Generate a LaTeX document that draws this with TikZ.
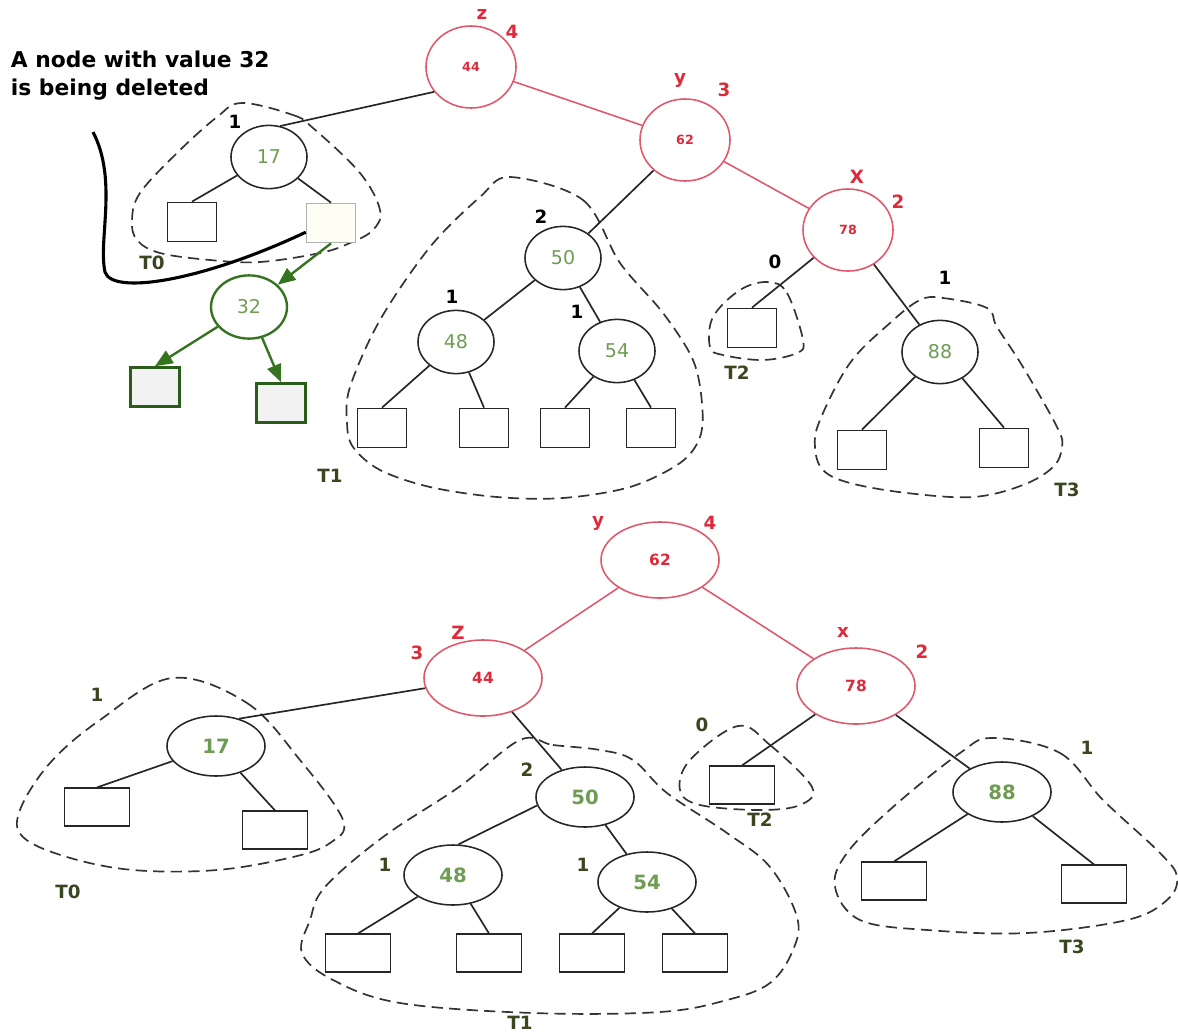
\documentclass[tikz,border=0pt]{standalone}
\usepackage{fontspec}
\setmainfont{DejaVu Sans}
\usetikzlibrary{shapes.geometric,arrows.meta}

\definecolor{avlred}{HTML}{DD2A3A}
\definecolor{ringred}{HTML}{E0566A}
\definecolor{keygreen}{HTML}{6E9C52}
\definecolor{tagolive}{HTML}{3A4620}
\definecolor{delgreen}{HTML}{357320}

\begin{document}
\begin{tikzpicture}[x=0.025cm, y=-0.025cm,  % one unit is one pixel, y grows downwards
    keynode/.style={ellipse, draw=black!85, line width=1.1pt, inner sep=0pt,
        minimum width=1.9cm, minimum height=1.58cm, text=keygreen,
        font=\fontsize{13.5}{14}\selectfont},
    rednode/.style={ellipse, draw=ringred, line width=1.1pt, inner sep=0pt,
        minimum width=2.25cm, minimum height=2.05cm, text=avlred,
        font=\bfseries\fontsize{9}{9}\selectfont},
    bigkey/.style={keynode, minimum width=2.45cm, minimum height=1.5cm,
        font=\bfseries\fontsize{14}{14}\selectfont},
    bigred/.style={rednode, minimum width=2.95cm, minimum height=1.9cm,
        font=\bfseries\fontsize{11}{11}\selectfont},
    leaf/.style={rectangle, draw=black!85, line width=1.1pt,
        minimum width=1.22cm, minimum height=0.98cm},
    bigleaf/.style={leaf, minimum width=1.63cm, minimum height=0.94cm},
    gone/.style={leaf, draw=delgreen!80!black, line width=1.7pt, fill=black!5},
    link/.style={draw=black!85, line width=1.2pt},
    redlink/.style={draw=ringred, line width=1.1pt},
    gonearrow/.style={draw=delgreen, line width=1.7pt, -{Triangle[length=4.4mm, width=3.6mm]}},
    subtree/.style={draw=black!80, line width=1.2pt, dash pattern=on 8pt off 4.5pt},
    bal/.style={font=\bfseries\fontsize{13}{13}\selectfont},
    redtag/.style={bal, text=avlred},
    tag/.style={bal, text=tagolive}]
    \useasboundingbox (0,0) rectangle (1178,1034);

    % ---------------- upper tree: 32 is removed, 44 gets out of balance
    \node[anchor=west, align=left, font=\bfseries\fontsize{15.5}{20}\selectfont] (note) at (6,76)
        {A node with value 32\\is being deleted};

    % dashed outlines of the subtrees
    \draw[subtree] plot[smooth cycle, tension=0.6] coordinates {(242,103) (293,115) (313,128) (360,173)
        (380,210) (373,230) (350,243) (320,253) (260,262) (210,260) (160,253) (137,240) (132,220)
        (140,193) (177,153) (217,117)};
    \draw[subtree] plot[smooth cycle, tension=0.55] coordinates {(510,177) (583,200) (620,263) (663,313)
        (693,360) (702,403) (700,437) (680,463) (630,487) (563,498) (497,497) (430,487) (380,470)
        (353,447) (347,423) (350,387) (380,320) (430,247) (480,197)};
    \draw[subtree] plot[smooth cycle, tension=0.6] coordinates {(768,282) (787,293) (803,340) (797,353)
        (763,360) (723,355) (710,347) (713,317) (740,290)};
    \draw[subtree] plot[smooth cycle, tension=0.6] coordinates {(920,300) (943,298) (987,308) (997,327)
        (1023,367) (1057,427) (1062,447) (1053,467) (1023,485) (973,497) (907,493) (850,483)
        (823,470) (815,447) (820,420) (850,363) (890,323)};

    % keys
    \node[rednode] (z1) at (471,67) {44};
    \node[rednode] (y1) at (685,140) {62};
    \node[rednode] (x1) at (848,230) {78};
    \node[keynode] (k17) at (269,157) {17};
    \node[keynode] (k50) at (563,258) {50};
    \node[keynode] (k48) at (456,342) {48};
    \node[keynode] (k54) at (617,351) {54};
    \node[keynode] (k88) at (940,352) {88};
    \node[keynode, draw=delgreen, line width=1.7pt] (k32) at (249,307) {32};

    % empty leaves
    \foreach \name/\x/\y in {n1/192/222, n5/382/428, n6/484/428, n7/565/428, n8/651/428,
        n9/752/328, n10/862/450, n11/1004/448}
        \node[leaf] (\name) at (\x,\y) {};
    \node[leaf, draw=black!30, fill=yellow!4] (n2) at (331,223) {};
    \node[gone] (n3) at (155,387) {};
    \node[gone] (n4) at (281,403) {};

    % links
    \draw[redlink] (z1) -- (y1);
    \draw[redlink] (y1) -- (x1);
    \draw[link] (z1.214) -- (k17.70);
    \draw[link] (y1) -- (k50);
    \draw[link] (x1) -- (n9.north);
    \draw[link] (x1) -- (k88);
    \draw[link] (k50) -- (k48);
    \draw[link] (k50) -- (k54);
    \foreach \a/\b in {k17/n1, k17/n2, k48/n5, k48/n6, k54/n7, k54/n8, k88/n10, k88/n11}
        \draw[link] (\a) -- (\b.north);

    % the deleted node hangs below
    \draw[gonearrow] (n2.south) -- (k32);
    \draw[gonearrow] (k32) -- (n3.north);
    \draw[gonearrow] (k32) -- (n4.north);
    \coordinate (hook) at (93,132);
    \draw[line width=2.2pt] (hook) .. controls (118,180) and (98,240) .. (105,272)
        .. controls (112,295) and (200,282) .. (n2.200);

    % heights and names
    \node[redtag] (zl) at (482,14) {z};
    \node[redtag] (zh) at (512,32) {4};
    \node[redtag] (yl) at (680,80) {y};
    \node[redtag] (yh) at (724,90) {3};
    \node[redtag] (xl) at (857,177) {X};
    \node[redtag] (xh) at (898,202) {2};
    \node[bal] (h17) at (235,122) {1};
    \node[bal] (h50) at (541,217) {2};
    \node[bal] (h48) at (452,297) {1};
    \node[bal] (h54) at (577,312) {1};
    \node[bal] (h2) at (775,262) {0};
    \node[bal] (h88) at (945,278) {1};
    \node[tag] (t0) at (152,263) {T0};
    \node[tag] (t1) at (330,476) {T1};
    \node[tag] (t2) at (737,373) {T2};
    \node[tag] (t3) at (1067,490) {T3};

    % ---------------- lower tree: after the rotation, 62 is the root
    \draw[subtree] plot[smooth cycle, tension=0.6] coordinates {(172,678) (247,703) (300,760) (343,820)
        (330,843) (293,857) (217,870) (133,870) (67,857) (23,837) (20,810) (50,763) (100,720)};
    \draw[subtree] plot[smooth cycle, tension=0.6] coordinates {(520,740) (553,745) (600,750) (633,760)
        (667,793) (727,833) (770,867) (797,917) (793,950) (770,983) (727,1000) (660,1012) (533,1013)
        (400,1003) (333,980) (302,953) (310,920) (325,887) (383,837) (459,787)};
    \draw[subtree] plot[smooth cycle, tension=0.6] coordinates {(738,726) (770,745) (812,787) (800,805)
        (760,810) (700,805) (680,790) (690,760)};
    \draw[subtree] plot[smooth cycle, tension=0.6] coordinates {(993,738) (1060,753) (1103,800) (1160,853)
        (1177,877) (1167,900) (1127,920) (1027,933) (927,930) (860,920) (835,887) (847,853)
        (893,807) (960,753)};

    \node[bigred] (y2) at (660,560) {62};
    \node[bigred] (z2) at (483,678) {44};
    \node[bigred] (x2) at (856,686) {78};
    \node[bigkey] (m17) at (216,746) {17};
    \node[bigkey] (m50) at (585,797) {50};
    \node[bigkey] (m48) at (453,875) {48};
    \node[bigkey] (m54) at (647,882) {54};
    \node[bigkey] (m88) at (1002,792) {88};

    \foreach \name/\x/\y in {p1/97/807, p2/275/830, p3/358/953, p4/489/953, p5/592/953,
        p6/695/953, p7/742/785, p8/894/881, p9/1094/884}
        \node[bigleaf] (\name) at (\x,\y) {};

    \draw[redlink] (y2) -- (z2);
    \draw[redlink] (y2) -- (x2);
    \draw[link] (z2.190) -- (m17.50);
    \draw[link] (z2) -- (m50);
    \draw[link] (m50.190) -- (m48.80);
    \draw[link] (m50) -- (m54);
    \draw[link] (x2) -- (p7.north);
    \draw[link] (x2) -- (m88);
    \foreach \a/\b in {m17/p1, m17/p2, m48/p3, m48/p4, m54/p5, m54/p6, m88/p8, m88/p9}
        \draw[link] (\a) -- (\b.north);

    \node[redtag] (yl2) at (598,523) {y};
    \node[redtag] (yh2) at (710,523) {4};
    \node[redtag] (zl2) at (458,633) {Z};
    \node[redtag] (zh2) at (417,653) {3};
    \node[redtag] (xl2) at (843,632) {x};
    \node[redtag] (xh2) at (922,652) {2};
    \node[tag] (g17) at (97,695) {1};
    \node[tag] (g50) at (527,770) {2};
    \node[tag] (g48) at (385,865) {1};
    \node[tag] (g54) at (583,865) {1};
    \node[tag] (g2) at (702,725) {0};
    \node[tag] (g88) at (1087,748) {1};
    \node[tag] (s0) at (68,892) {T0};
    \node[tag] (s1) at (520,1023) {T1};
    \node[tag] (s2) at (760,820) {T2};
    \node[tag] (s3) at (1072,947) {T3};
\end{tikzpicture}
\end{document}
